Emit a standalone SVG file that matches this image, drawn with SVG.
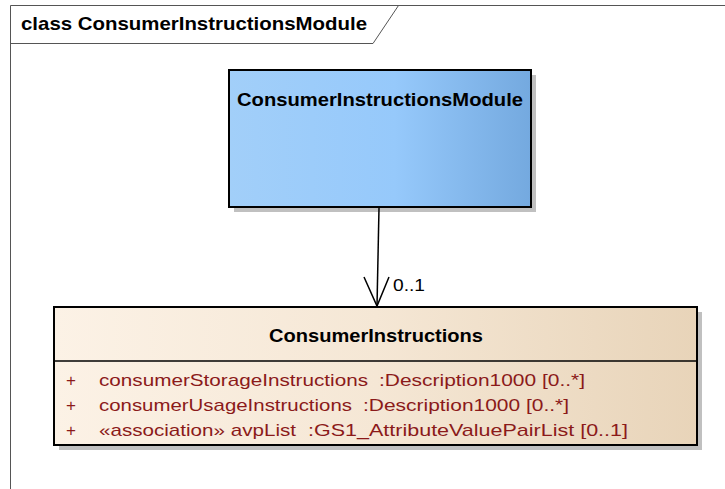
<svg xmlns="http://www.w3.org/2000/svg" width="725" height="489" viewBox="0 0 725 489">
<defs>
<linearGradient id="gBlue" x1="0" y1="0" x2="1" y2="0">
<stop offset="0" stop-color="#a2cff9"/>
<stop offset="0.55" stop-color="#96c9fb"/>
<stop offset="1" stop-color="#74a9df"/>
</linearGradient>
<linearGradient id="gBeige" x1="0" y1="0" x2="1" y2="0">
<stop offset="0" stop-color="#fcf2e6"/>
<stop offset="0.5" stop-color="#f5e7d5"/>
<stop offset="1" stop-color="#e8d4b9"/>
</linearGradient>
</defs>
<style>
text{font-family:"Liberation Sans",Arial,sans-serif}
.b{font-weight:bold;font-size:18.5px;fill:#000}
.a{font-size:17px;fill:#8b1a1a}
.sh{fill:#c0c0c0}
.box{stroke:#000;stroke-width:2}
</style>
<rect width="725" height="489" fill="#fff"/>
<g id="frame">
<path d="M10.5 489 V5.5 H725" fill="none" stroke="#555" stroke-width="1"/>
<path d="M10.5 43.5 H373 L398.5 5.5" fill="none" stroke="#555" stroke-width="1"/>
<text class="b" x="21" y="30" textLength="346" lengthAdjust="spacingAndGlyphs">class ConsumerInstructionsModule</text>
</g>
<g id="ConsumerInstructionsModule">
<rect class="sh" x="234" y="75" width="302" height="137"/>
<rect class="box" x="229" y="70" width="302" height="137" fill="url(#gBlue)"/>
<text class="b" x="237" y="106" textLength="286" lengthAdjust="spacingAndGlyphs">ConsumerInstructionsModule</text>
</g>
<g id="ConsumerInstructions">
<rect class="sh" x="59" y="312" width="643" height="138"/>
<rect class="box" x="54" y="307" width="643" height="138" fill="url(#gBeige)"/>
<line x1="54" y1="361" x2="697" y2="361" stroke="#000" stroke-width="1.5"/>
<text class="b" x="269" y="342" textLength="214" lengthAdjust="spacingAndGlyphs">ConsumerInstructions</text>
<text class="a" x="66" y="386">+</text>
<text class="a" x="99" y="386" textLength="269" lengthAdjust="spacingAndGlyphs">consumerStorageInstructions</text>
<text class="a" x="379" y="386" textLength="206" lengthAdjust="spacingAndGlyphs">:Description1000 [0..*]</text>
<text class="a" x="66" y="411">+</text>
<text class="a" x="99" y="411" textLength="253" lengthAdjust="spacingAndGlyphs">consumerUsageInstructions</text>
<text class="a" x="363" y="411" textLength="206" lengthAdjust="spacingAndGlyphs">:Description1000 [0..*]</text>
<text class="a" x="66" y="436">+</text>
<text class="a" x="99" y="436" textLength="197" lengthAdjust="spacingAndGlyphs">«association» avpList</text>
<text class="a" x="308" y="436" textLength="320" lengthAdjust="spacingAndGlyphs">:GS1_AttributeValuePairList [0..1]</text>
</g>
<g id="connectors">
<line x1="379" y1="208" x2="377" y2="306" stroke="#000" stroke-width="1.5"/>
<polyline points="364,277 377,306 389,277" fill="none" stroke="#000" stroke-width="1.5"/>
<text x="393" y="291" font-size="17" fill="#000" textLength="32" lengthAdjust="spacingAndGlyphs">0..1</text>
</g>
</svg>
